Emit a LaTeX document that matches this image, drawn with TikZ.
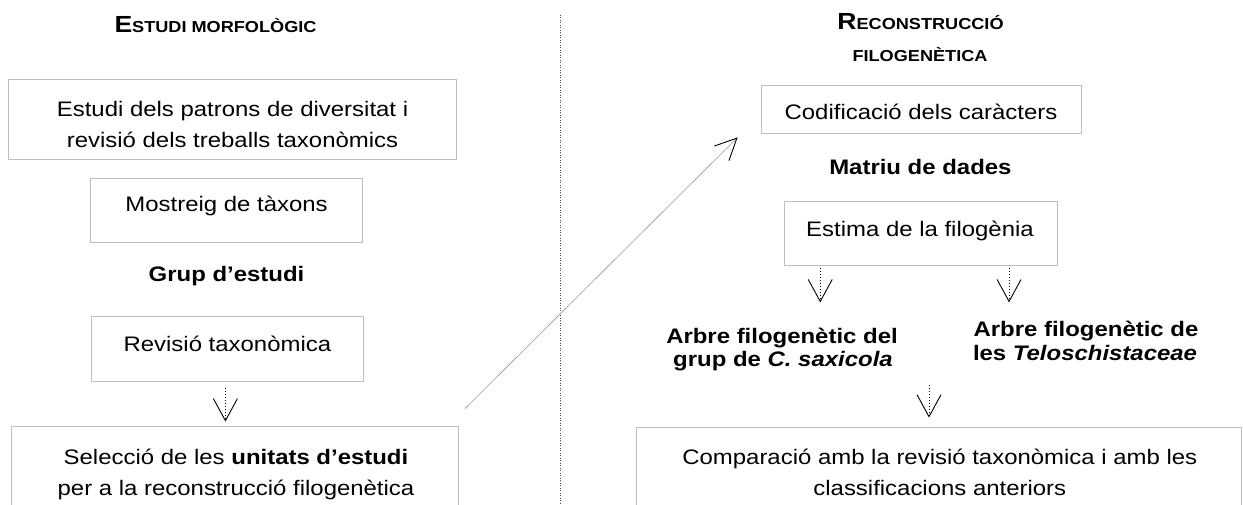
\documentclass[tikz,border=0pt]{standalone}
\usepackage{fontspec}
\setmainfont{Liberation Sans}[FakeStretch=1.14]
\usetikzlibrary{arrows.meta,calc}
\newcommand{\hdrbig}[1]{{\fontsize{23.3}{26}\selectfont\bfseries #1}}
\newcommand{\hdrsmall}[1]{{\fontsize{15.9}{18}\selectfont\bfseries #1}}
\tikzset{
  vtip/.tip={Straight Barb[length=22pt,width=24pt,line width=0.9pt,color=black]},
  dtip/.tip={Straight Barb[length=21.6pt,width=20.7pt,line width=0.9pt,color=black]},
  boxstyle/.style={draw=black!25, line width=0.8pt, inner sep=0pt},
  txt/.style={inner sep=0pt, anchor=base, font=\fontsize{21}{24}\selectfont},
  btxt/.style={inner sep=0pt, anchor=base, font=\fontsize{21}{24}\selectfont\bfseries},
  hdr/.style={inner sep=0pt, anchor=base},
  flow/.style={black, line width=0.9pt, dash pattern=on 1pt off 2pt, -vtip},
  link/.style={black!40, line width=0.6pt, -dtip},
  divider/.style={black!70, line width=0.8pt, dash pattern=on 1pt off 1.5pt}
}
\begin{document}
\begin{tikzpicture}[x=1pt,y=-1pt]
\useasboundingbox (0,0) rectangle (1243,505);
\clip (0,0) rectangle (1243,505);
\fill[white] (0,0) rectangle (1243,505);

% ---------- left column ----------
\node[hdr] (hL) at (215.5,33) {\hdrbig{E}\hdrsmall{STUDI MORFOLÒGIC}};

\node[boxstyle, minimum width=448.4pt, minimum height=80pt] (b1) at (232.5,119) {};
\node[txt] (b1a) at (232.5,117) {Estudi dels patrons de diversitat i};
\node[txt] (b1b) at (232.5,148) {revisió dels treballs taxonòmics};

\node[boxstyle, minimum width=272pt, minimum height=64pt] (b2) at (226.6,210) {};
\node[txt] (b2a) at (226.6,212) {Mostreig de tàxons};

\node[btxt] (grup) at (226.5,282) {Grup d’estudi};

\node[boxstyle, minimum width=271.3pt, minimum height=65pt] (b3) at (227.4,348.5) {};
\node[txt] (b3a) at (227.4,352) {Revisió taxonòmica};

\node[boxstyle, minimum width=447.7pt, minimum height=96pt] (b4) at (234.9,474) {};
\node[txt] (b4a) at (236,464) {Selecció de les \textbf{unitats d’estudi}};
\node[txt] (b4b) at (236,495) {per a la reconstrucció filogenètica};

\draw[flow] ($(b3.south)+(-2,7)$) -- ($(b3.south |- b4.north)+(-2,-4)$);

% ---------- divider ----------
\coordinate (dvT) at (560.3,15);
\coordinate (dvB) at (560.3,505);
\draw[divider] (dvT) -- (dvB);

% ---------- right column ----------
\node[hdr] (hR1) at (920.5,30) {\hdrbig{R}\hdrsmall{ECONSTRUCCIÓ}};
\node[hdr] (hR2) at (920,62) {\hdrsmall{FILOGENÈTICA}};

\node[boxstyle, minimum width=320.7pt, minimum height=48pt] (cod) at (921.4,109) {};
\node[txt] (coda) at (921,120) {Codificació dels caràcters};

\node[btxt] (mat) at (920.4,175) {Matriu de dades};

\node[boxstyle, minimum width=272.5pt, minimum height=64pt] (est) at (920.8,233) {};
\node[txt] (esta) at (920,237) {Estima de la filogènia};

\node[btxt] (lL1) at (782,343) {Arbre filogenètic del};
\node[btxt] (lL2) at (783,366) {grup de \textit{C. saxicola}};
\node[btxt] (lR1) at (1086,336) {Arbre filogenètic de};
\node[btxt] (lR2) at (1085,360) {les \textit{Teloschistaceae}};

\node[boxstyle, minimum width=605.9pt, minimum height=98pt] (cmp) at (938.85,476) {};
\node[txt] (cmpa) at (939.8,464) {Comparació amb la revisió taxonòmica i amb les};
\node[txt] (cmpb) at (939.8,495) {classificacions anteriors};

\draw[flow] ($(est.south west)+(36.1,3)$) -- ($(est.south west)+(36.1,37)$);
\draw[flow] ($(est.south east)+(-48.4,3)$) -- ($(est.south east)+(-48.4,37)$);
\draw[flow] ($(cmp.north)+(-9.85,-42)$) -- ($(cmp.north)+(-9.85,-9)$);

% ---------- link between columns ----------
\coordinate (dS) at ($(b4.north east)+(5.9,-17)$);
\coordinate (dE) at ($(cod.south west)+(-23,4)$);
\draw[link] (dS) -- (dE);
\end{tikzpicture}
\end{document}
